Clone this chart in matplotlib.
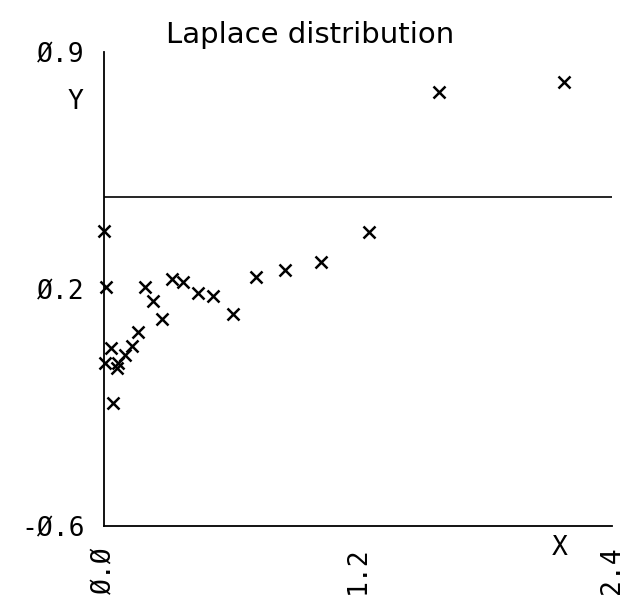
import matplotlib
matplotlib.use("Agg")
import matplotlib.pyplot as plt

# data
x_vals = [0.0, 0.01, 0.194, 0.232, 0.275, 0.161, 0.133, 0.10, 0.066, 0.062,
          0.033, 0.005, 0.043, 0.322, 0.375, 0.445, 0.517, 0.611, 0.72, 0.853,
          1.024, 1.251, 1.583, 2.175]
y_vals = [0.334, 0.156, 0.156, 0.112, 0.055, 0.014, -0.03, -0.059, -0.084, -0.10,
          -0.037, -0.084, -0.211, 0.182, 0.172, 0.137, 0.128, 0.071, 0.188, 0.21,
          0.235, 0.330, 0.773, 0.805]
ref_line = 0.44

x_ticks = [0.0, 1.2, 2.4]
x_tick_labels = ["Ø.Ø", "1.2", "2.4"]
y_ticks = [-0.6, 0.15, 0.9]
y_tick_labels = ["-Ø.6", "Ø.2", "Ø.9"]
title = "Laplace distribution"

W, H = 631, 603
fig = plt.figure(figsize=(W / 100, H / 100), dpi=100)
left, right, top, bottom = 104, 612, 52, 526
ax = fig.add_axes([left / W, 1 - bottom / H, (right - left) / W, (bottom - top) / H])

ax.plot(x_vals, y_vals, linestyle="none", marker="x", color="black",
        markersize=9, markeredgewidth=1.8, clip_on=False)
ax.axhline(ref_line, color="black", linewidth=1.2)

ax.set_xlim(0, 2.4)
ax.set_ylim(-0.6, 0.9)
ax.set_xticks(x_ticks)
ax.set_xticklabels(x_tick_labels, rotation=90, fontfamily="DejaVu Sans Mono", fontsize=19)
ax.set_yticks(y_ticks)
ax.set_yticklabels(y_tick_labels, fontfamily="DejaVu Sans Mono", fontsize=19)
ax.tick_params(axis="both", length=0)
ax.tick_params(axis="y", pad=14)
ax.tick_params(axis="x", pad=15)

for s in ["top", "right"]:
    ax.spines[s].set_visible(False)
for s in ["left", "bottom"]:
    ax.spines[s].set_linewidth(1.3)

fig.text(310 / W, 1 - 35 / H, title, ha="center", va="center",
         fontsize=21, family="DejaVu Sans")
fig.text(75 / W, 1 - 102 / H, "Y", ha="center", va="center",
         fontsize=19, family="DejaVu Sans Mono")
fig.text(560 / W, 1 - 548 / H, "X", ha="center", va="center",
         fontsize=19, family="DejaVu Sans Mono")

fig.savefig("out.png", dpi=100, facecolor="white")
